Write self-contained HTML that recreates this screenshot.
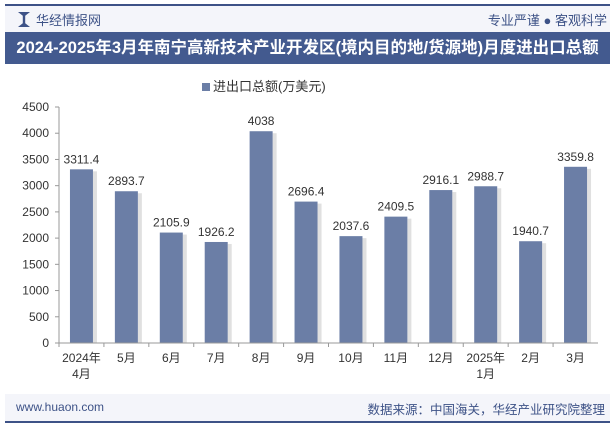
<!DOCTYPE html>
<html><head><meta charset="utf-8"><style>
body{margin:0;width:615px;height:427px;background:#fff;font-family:"Liberation Sans","Noto Sans CJK SC",sans-serif;overflow:hidden;position:relative}
.abs{position:absolute}
</style></head><body>
<div class="abs" style="left:5px;top:4px;width:605px;height:2px;background:#3d5287"></div>
<div class="abs" style="left:5px;top:6px;width:605px;height:26px;background:#f4f5fa"></div>
<div class="abs" style="left:18px;top:12px;width:12px;height:15px;background:#3d5287;clip-path:polygon(0 0,40% 25%,40% 75%,0 100%,100% 100%,60% 75%,60% 25%,100% 0)"></div>
<div class="abs" style="left:36px;top:10px;font-size:13px;color:#3d5287">华经情报网</div>
<div class="abs" style="right:8px;top:10px;font-size:13px;color:#3d5287">专业严谨 ● 客观科学</div>
<div class="abs" style="left:5px;top:32px;width:605px;height:32px;background:#435a8f;color:#fff;font-weight:bold;font-size:16.5px;line-height:32px;text-align:center;white-space:nowrap">2024-2025年3月年南宁高新技术产业开发区(境内目的地/货源地)月度进出口总额</div>
<div class="abs" style="left:202px;top:76px;font-size:13px;color:#333"><span style="display:inline-block;width:8px;height:8px;background:#6b7ea6;margin-right:3px"></span>进出口总额(万美元)</div>
<svg class="abs" style="left:0;top:0" width="615" height="427"><g id="g"></g></svg>
<div class="abs" style="left:5px;top:394px;width:605px;height:27px;background:#f4f5fa"></div>
<div class="abs" style="left:5px;top:421px;width:605px;height:2px;background:#3d5287"></div>
<div class="abs" style="left:16px;top:400px;font-size:12px;color:#3d5287">www.huaon.com</div>
<div class="abs" style="right:10px;top:399px;font-size:12.5px;color:#3d5287">数据来源：中国海关，华经产业研究院整理</div>
<script>
const categories=["2024年\n4月","5月","6月","7月","8月","9月","10月","11月","12月","2025年\n1月","2月","3月"];
const values=[3311.4,2893.7,2105.9,1926.2,4038,2696.4,2037.6,2409.5,2916.1,2988.7,1940.7,3359.8];
const valueLabels=["3311.4","2893.7","2105.9","1926.2","4038","2696.4","2037.6","2409.5","2916.1","2988.7","1940.7","3359.8"];
const yTicks=[0,500,1000,1500,2000,2500,3000,3500,4000,4500];
const g=document.getElementById('g');const NS="http://www.w3.org/2000/svg";
const x0=59,x1=598,y0=343,y1=107,ymax=4500;
const step=(x1-x0)/categories.length;
const Y=v=>y0-(v/ymax)*(y0-y1);
const X=i=>x0+step*(i+0.5);
function mk(t,a,txt){const e=document.createElementNS(NS,t);for(const k in a)e.setAttribute(k,a[k]);if(txt!=null)e.textContent=txt;g.appendChild(e);return e;}
yTicks.forEach(t=>{
const l=mk('text',{x:49,y:Y(t)+4,'text-anchor':'end','font-size':12,fill:'#333'},String(t));


const tk=mk('line',{x1:55,x2:59,y1:Y(t),y2:Y(t),stroke:'#999'});


});
const ya=mk('line',{x1:59,x2:59,y1:y1,y2:y0,stroke:'#999'});


values.forEach((v,i)=>{
const w=23,cx=X(i);
const s=mk('rect',{x:cx+w/2,y:Y(v)+2,width:4,height:y0-Y(v)-2,fill:'#ccc',opacity:0.6});


const b=mk('rect',{x:cx-w/2,y:Y(v),width:w,height:y0-Y(v),fill:'#6b7ea6'});


const t=mk('text',{x:cx,y:Y(v)-6,'text-anchor':'middle','font-size':12,fill:'#333'},valueLabels[i]);


categories[i].split('\n').forEach((ln,j)=>{
const c=mk('text',{x:cx,y:362+j*16,'text-anchor':'middle','font-size':12,fill:'#333'},ln);


});
const tk=mk('line',{x1:x0+step*i,x2:x0+step*i,y1:y0,y2:y0+4,stroke:'#999'});


});
const xa=mk('line',{x1:x0,x2:x1,y1:y0,y2:y0,stroke:'#999'});


</script>
</body></html>
